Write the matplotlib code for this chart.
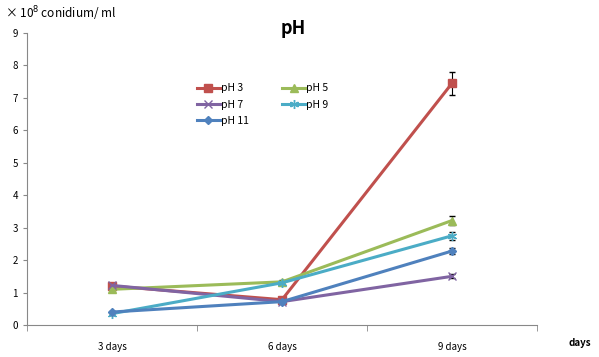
import matplotlib.pyplot as plt
from matplotlib.lines import Line2D
import numpy as np

plt.rcParams['font.family'] = ['Noto Sans CJK KR', 'DejaVu Sans']

days = ["3 days", "6 days", "9 days"]
series = ["pH 3", "pH 5", "pH 7", "pH 9", "pH 11"]
ph3 = [1.2, 0.78, 7.45]
ph5 = [1.1, 1.33, 3.22]
ph7 = [1.22, 0.72, 1.5]
ph9 = [0.35, 1.3, 2.75]
ph11 = [0.4, 0.72, 2.28]
err3 = [0.05, 0.05, 0.36]
err5 = [0.05, 0.06, 0.15]
err7 = [0.03, 0.04, 0.06]
err9 = [0.03, 0.05, 0.13]
err11 = [0.03, 0.04, 0.1]

values = [ph3, ph5, ph7, ph9, ph11]
errors = [err3, err5, err7, err9, err11]
colors = ["#C0504D", "#9BBB59", "#8064A2", "#4BACC6", "#4F81BD"]
markers = ["s", "^", "x", (6, 2, 0), "D"]
sizes = [5.5, 5.5, 5.5, 6.5, 4.5]

fig = plt.figure(figsize=(5.99, 3.57), dpi=100)
ax = fig.add_axes([27 / 599, 32 / 357, (537 - 27) / 599, (325 - 33) / 357])

x = np.arange(len(days))
handles = []
for vals, errs, c, m, s, name in zip(values, errors, colors, markers, sizes, series):
    ax.errorbar(x, vals, yerr=errs, color=c, marker=m, markersize=s, lw=2.2,
                ecolor="black", elinewidth=0.8, capsize=2.5, capthick=0.8,
                markeredgecolor=c, markeredgewidth=1.0)
    handles.append(Line2D([], [], color=c, marker=m, markersize=s, lw=2.2,
                          markeredgecolor=c, markeredgewidth=1.0, label=name))

ax.set_xlim(-0.5, 2.5)
ax.set_ylim(0, 9)
ax.set_yticks(range(10))
ax.set_xticks(x)
ax.set_xticklabels(days, fontsize=7)
ax.tick_params(axis='y', labelsize=7, length=3, color="#888888")
ax.tick_params(axis='x', length=0, pad=12)
ax.set_xticks([-0.5, 0.5, 1.5, 2.5], minor=True)
ax.tick_params(axis='x', which='minor', length=4, color="#888888")
for side in ["top", "right"]:
    ax.spines[side].set_visible(False)
ax.spines["left"].set_color("#888888")
ax.spines["bottom"].set_color("#888888")

fig.text(293 / 599, 1 - 28 / 357, "pH", fontsize=13, fontweight="bold", ha="center", va="center")
fig.text(5 / 599, 1 - 14 / 357, "× 10$^{8}$ conidium/ ml", fontsize=8.5, ha="left", va="center")
fig.text(580 / 599, 1 - 343 / 357, "days", fontsize=7, fontweight="bold", ha="center", va="center")

# column-major order so rows read pH 3, pH 5 / pH 7, pH 9 / pH 11
order = [0, 2, 4, 1, 3]
ax.legend([handles[i] for i in order], [series[i] for i in order], ncol=2,
          loc="upper left", bbox_to_anchor=(0.315, 0.86),
          frameon=False, fontsize=7.5, handlelength=2.2, handletextpad=0.1,
          columnspacing=3.2, labelspacing=0.6)

fig.savefig("out.png", dpi=100)
